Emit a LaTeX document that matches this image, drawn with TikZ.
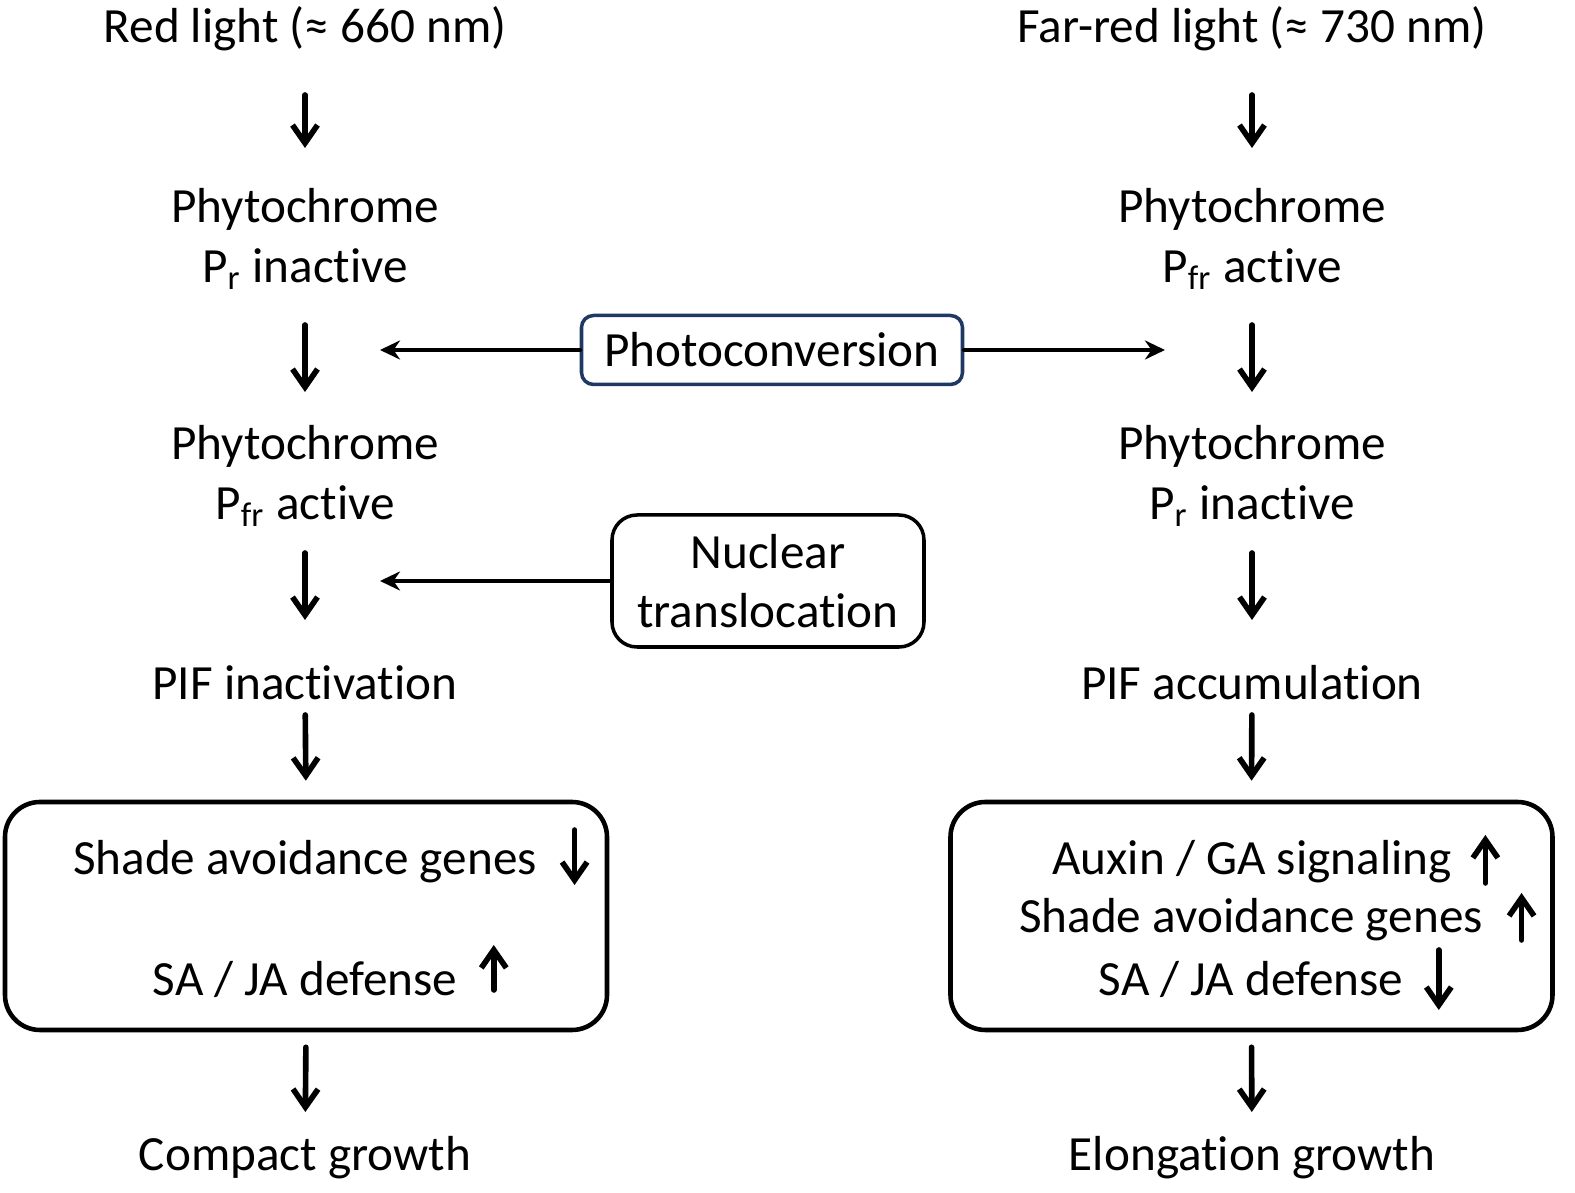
\documentclass[tikz,border=0pt]{standalone}
\usepackage{fontspec}
\setmainfont[Ligatures=NoCommon]{Carlito}
\usepackage{tikz}
\usetikzlibrary{arrows.meta,positioning}
\definecolor{phInk}{HTML}{000000}
\definecolor{phNavy}{HTML}{1F3864}
\tikzset{
  ph diagram/.style={font=\fontsize{14}{17}\selectfont, text=phInk,
    line cap=round, line join=round},
  ph text/.style={inner sep=0pt, align=center},
  ph group/.style={draw=phInk, line width=1.3pt, rounded corners=0.35cm,
    minimum width=6.02cm, minimum height=2.28cm, inner sep=0pt},
  ph photo/.style={draw=phNavy, line width=1pt, rounded corners=0.12cm,
    minimum width=3.81cm, minimum height=0.69cm, inner sep=0pt},
  ph nuclear/.style={draw=phInk, line width=1pt, rounded corners=0.25cm,
    minimum width=3.12cm, minimum height=1.32cm, inner sep=0pt, align=center},
  ph step/.style={-{Straight Barb[length=1.8mm,width=2.5mm]}, draw=phInk,
    line width=1.6pt},
  ph trend/.style={ph step},
  ph link/.style={-{Stealth[length=2mm,width=1.9mm]}, draw=phInk,
    line width=1.4pt}
}

\begin{document}
\begin{tikzpicture}[ph diagram, x=1cm, y=-1cm]
\useasboundingbox (0,0) rectangle (15.75,11.93);
% red light (left)
\node[ph text] (redL) at (3.05,0.29) {Red light (≈ 660 nm)};
\node[ph text] (prL) at (3.05,2.39) {Phytochrome\\P\textsubscript{r} inactive};
\node[ph text] (pfrL) at (3.05,4.76) {Phytochrome\\P\textsubscript{fr} active};
\node[ph text] (pifL) at (3.05,6.83) {PIF inactivation};
\node[ph group] (boxL) at (3.06,9.16) {};
\node[ph text] (shadeL) at (3.05,8.62) {Shade avoidance genes};
\node[ph text] (defL) at (3.05,9.79) {SA / JA defense};
\node[ph text] (compact) at (3.05,11.58) {Compact growth};
% far-red light (right)
\node[ph text] (farR) at (12.52,0.29) {Far-red light (≈ 730 nm)};
\node[ph text] (pfrR) at (12.52,2.39) {Phytochrome\\P\textsubscript{fr} active};
\node[ph text] (prR) at (12.52,4.76) {Phytochrome\\P\textsubscript{r} inactive};
\node[ph text] (pifR) at (12.52,6.83) {PIF accumulation};
\node[ph group] (boxR) at (12.515,9.16) {};
\node[ph text] (auxR) at (12.52,8.62) {Auxin / GA signaling};
\node[ph text] (shadeR) at (12.51,9.20) {Shade avoidance genes};
\node[ph text] (defR) at (12.51,9.79) {SA / JA defense};
\node[ph text] (elong) at (12.52,11.58) {Elongation growth};
% middle
\node[ph photo] (photo) at (7.72,3.50) {Photoconversion};
\node[ph nuclear] (nuc) at (7.68,5.81) {Nuclear\\translocation};

\draw[ph step, shorten <=0.66cm, shorten >=0.91cm] (redL.center) -- (prL.center);
\draw[ph step, shorten <=0.86cm, shorten >=0.84cm] (prL.center) -- (pfrL.center);
\draw[ph step, shorten <=0.77cm, shorten >=0.63cm] (pfrL.center) -- (pifL.center);
\draw[ph step, shorten <=0.32cm, shorten >=0.19cm] (pifL.center) -- (boxL.north);
\draw[ph step, shorten <=0.15cm, shorten >=0.46cm] (boxL.south) -- (compact.center);

\draw[ph step, shorten <=0.66cm, shorten >=0.91cm] (farR.center) -- (pfrR.center);
\draw[ph step, shorten <=0.86cm, shorten >=0.84cm] (pfrR.center) -- (prR.center);
\draw[ph step, shorten <=0.77cm, shorten >=0.63cm] (prR.center) -- (pifR.center);
\draw[ph step, shorten <=0.32cm, shorten >=0.19cm] (pifR.center) -- (boxR.north);
\draw[ph step, shorten <=0.15cm, shorten >=0.46cm] (boxR.south) -- (elong.center);

\draw[ph link, shorten >=0.75cm] (photo.west) -- (photo.west -| prL.center);
\draw[ph link, shorten >=0.87cm] (photo.east) -- (photo.east -| pfrR.center);
\draw[ph link, shorten >=0.75cm] (nuc.west) -- (nuc.west -| pfrL.center);

% up / down marks
\draw[ph trend] ([xshift=0.37cm,yshift=0.32cm]shadeL.east) -- ([xshift=0.37cm,yshift=-0.23cm]shadeL.east);
\draw[ph trend] ([xshift=0.36cm,yshift=-0.11cm]defL.east) -- ([xshift=0.36cm,yshift=0.34cm]defL.east);
\draw[ph trend] ([xshift=0.33cm,yshift=-0.21cm]auxR.east) -- ([xshift=0.33cm,yshift=0.27cm]auxR.east);
\draw[ph trend] ([xshift=0.38cm,yshift=-0.20cm]shadeR.east) -- ([xshift=0.38cm,yshift=0.27cm]shadeR.east);
\draw[ph trend] ([xshift=0.35cm,yshift=0.29cm]defR.east) -- ([xshift=0.35cm,yshift=-0.31cm]defR.east);
\end{tikzpicture}
\end{document}
